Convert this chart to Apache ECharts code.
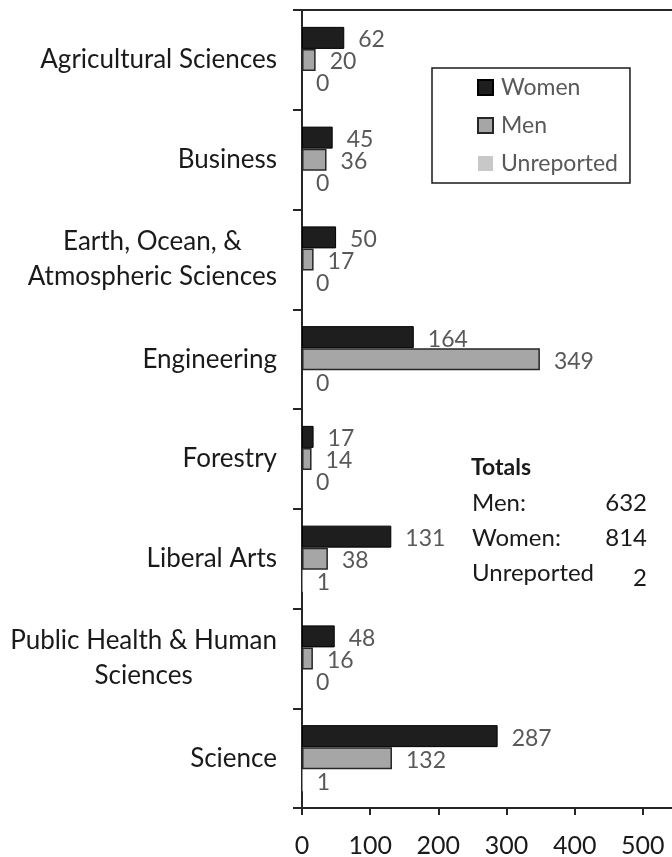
<!DOCTYPE html>
<html>
<head>
<meta charset="utf-8">
<script src="https://cdn.jsdelivr.net/npm/echarts@6/dist/echarts.min.js"></script>
<style>html,body{margin:0;padding:0;background:#fff;}#c{width:672px;height:857px;}</style>
</head>
<body>
<div id="c"></div>
<script>
const categories = ['Agricultural Sciences', 'Business', 'Earth, Ocean, &\nAtmospheric Sciences', 'Engineering', 'Forestry', 'Liberal Arts', 'Public Health & Human\nSciences', 'Science'];
const women = [62, 45, 50, 164, 17, 131, 48, 287];
const men = [20, 36, 17, 349, 14, 38, 16, 132];
const unreported = [0, 0, 0, 0, 0, 1, 0, 1];
const xTicks = [0, 100, 200, 300, 400, 500, 600];
const totals = [['Men:', '632'], ['Women:', '814'], ['Unreported', '2']];

const FONT = 'Lato';
const chart = echarts.init(document.getElementById('c'), null, {renderer: 'canvas'});

const labelStyle = {show: true, position: 'right', distance: 14, offset: [0, 2], color: '#595959', fontFamily: FONT, fontSize: 23};

const totalsGraphics = [{
  type: 'text', left: 471, top: 456,
  style: {text: 'Totals', font: 'bold 23px ' + FONT, fill: '#1a1a1a'}
}];
totals.forEach((t, i) => {
  totalsGraphics.push({type: 'text', left: 472, top: 491 + i * 35,
    style: {text: t[0], font: '24px ' + FONT, fill: '#1a1a1a'}});
  totalsGraphics.push({type: 'text', right: 672 - 647, top: 491 + i * 35 + (i === 2 ? 5 : 0),
    style: {text: t[1], font: '24px ' + FONT, fill: '#1a1a1a', align: 'right'}});
});

chart.setOption({
  animation: false,
  backgroundColor: '#ffffff',
  grid: {left: 302, top: 10, width: 409, height: 798, containLabel: false, outerBoundsMode: 'none'},
  legend: {
    orient: 'vertical', left: 432, top: 68,
    data: ['Women', 'Men', 'Unreported'],
    borderColor: '#1a1a1a', borderWidth: 1.5,
    padding: [8, 12, 8, 45],
    itemWidth: 15, itemHeight: 15, itemGap: 15, icon: 'rect',
    textStyle: {color: '#595959', fontFamily: FONT, fontSize: 23, padding: [0, 0, 0, 3]}
  },
  xAxis: [{
    type: 'value', min: 0, max: 600, interval: 100, position: 'bottom',
    splitLine: {show: false},
    axisLine: {show: true, lineStyle: {color: '#262626', width: 2}},
    axisTick: {show: true, length: 7, lineStyle: {color: '#262626', width: 2}},
    axisLabel: {margin: 25, color: '#1a1a1a', fontFamily: FONT, fontSize: 25,
      formatter: v => xTicks.indexOf(v) >= 0 ? String(v) : ''}
  }, {
    type: 'value', min: 0, max: 600, position: 'top',
    splitLine: {show: false},
    axisLine: {show: true, onZero: false, lineStyle: {color: '#262626', width: 2}},
    axisTick: {show: false}, axisLabel: {show: false}
  }],
  yAxis: {
    type: 'category', data: categories, inverse: true,
    axisLine: {show: true, lineStyle: {color: '#262626', width: 2}},
    axisTick: {show: true, length: 9, alignWithLabel: false, lineStyle: {color: '#262626', width: 2}},
    axisLabel: {
      margin: 25, color: '#1a1a1a', fontFamily: FONT, fontSize: 26, lineHeight: 35, align: 'right',
      formatter: v => v.split('\n').map(l => '{c|' + l + '}').join('\n'),
      rich: {c: {align: 'center', fontFamily: FONT, fontSize: 26, lineHeight: 35, color: '#1a1a1a'}}
    }
  },
  series: [
    {name: 'Women', type: 'bar', data: women, barWidth: 22, barGap: '0%',
      itemStyle: {color: '#1e1e1e', borderColor: '#000', borderWidth: 1}, label: labelStyle},
    {name: 'Men', type: 'bar', data: men, barWidth: 22, barGap: '0%',
      itemStyle: {color: '#a6a6a6', borderColor: '#262626', borderWidth: 1.5}, label: labelStyle},
    {name: 'Unreported', type: 'bar', data: unreported, barWidth: 22, barGap: '0%',
      itemStyle: {color: '#c8c8c8', borderWidth: 0}, label: labelStyle}
  ],
  graphic: totalsGraphics
});
</script>
</body>
</html>
